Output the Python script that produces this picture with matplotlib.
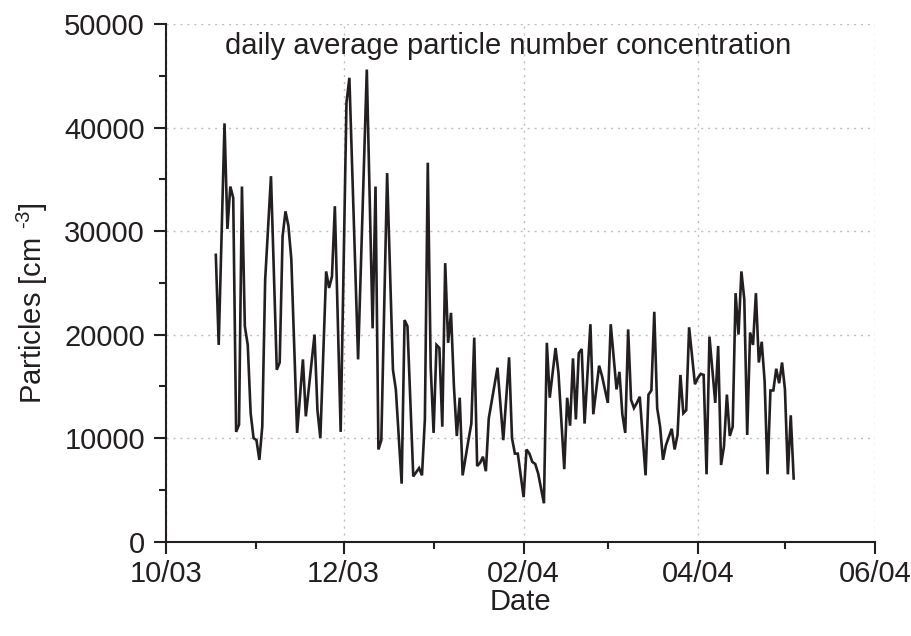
import numpy as np
import matplotlib
matplotlib.use("Agg")
import matplotlib.pyplot as plt
import matplotlib.dates as mdates
from matplotlib.ticker import MultipleLocator

plt.rcParams['font.family'] = ['Liberation Sans', 'DejaVu Sans']
plt.rcParams['mathtext.fontset'] = 'custom'
plt.rcParams['mathtext.rm'] = 'Liberation Sans'
plt.rcParams['mathtext.it'] = 'Liberation Sans:italic'
plt.rcParams['mathtext.bf'] = 'Liberation Sans:bold'

# day offsets from 2003-10-01 and daily average particle concentration (cm^-3)
start_date = "2003-10-01"
days = [17, 18, 20, 21, 22, 23, 24, 25, 26, 27, 28, 29, 30, 31, 32, 33, 34, 36, 38, 39,
        40, 41, 42, 43, 45, 47, 48, 51, 52, 53, 55, 56, 57, 58, 60, 62, 63, 66, 69, 71,
        72, 73, 74, 76, 78, 79, 81, 82, 83, 85, 87, 88, 89, 90, 91, 92, 93, 94, 95, 96,
        97, 98, 99, 100, 101, 102, 104, 105, 106, 107, 108, 109, 110, 111, 114, 116, 118, 119, 120, 121,
        123, 124, 125, 126, 127, 128, 130, 131, 132, 134, 135, 137, 138, 139, 140, 141, 142, 143, 144, 146,
        147, 149, 150, 152, 153, 155, 156, 157, 158, 159, 160, 161, 162, 163, 165, 166, 167, 168, 169, 170,
        171, 172, 174, 175, 176, 177, 178, 179, 180, 182, 183, 184, 185, 186, 187, 189, 190, 191, 192, 193,
        194, 195, 196, 197, 198, 199, 200, 201, 202, 203, 204, 205, 206, 207, 208, 209, 210, 211, 212, 213,
        214, 215, 216]
particles = [27700, 19000, 40400, 30200, 34300, 33200, 10600, 11300, 34300, 20800, 19000, 12400, 10000, 9800, 7900, 11100, 25300, 35300, 16600, 17300,
             29500, 31900, 30500, 27300, 10500, 17600, 12100, 20000, 12700, 10000, 26100, 24500, 25600, 32400, 10600, 42400, 44800, 17600, 45600, 20600,
             34300, 8900, 9800, 35600, 16600, 14700, 5600, 21400, 20800, 6300, 7100, 6400, 11800, 36600, 16900, 10500, 19000, 18700, 11100, 26900,
             19200, 22100, 15000, 10200, 13900, 6400, 9800, 11400, 19700, 7300, 7600, 8200, 6800, 11900, 16800, 9800, 17800, 10000, 8500, 8500,
             4300, 8900, 8500, 7700, 7500, 6600, 3700, 19200, 13900, 18700, 16300, 7000, 13900, 11200, 17700, 11800, 18200, 18600, 11400, 21000,
             12300, 17000, 16000, 13400, 21000, 14700, 16400, 12300, 10500, 20500, 13700, 12900, 13400, 14000, 6400, 14200, 14600, 22200, 12900, 11100,
             7900, 9300, 10900, 8900, 10300, 16100, 12400, 12700, 20700, 15200, 15800, 16200, 16100, 6500, 19800, 13400, 18900, 7400, 9200, 14200,
             10200, 11100, 24000, 20000, 26100, 23400, 10300, 20200, 19000, 24000, 17300, 19300, 15500, 6500, 14600, 14600, 16700, 15300, 17300, 14700,
             6500, 12200, 6100]

title_text = "daily average particle number concentration"
x_label = "Date"
y_label = "Particles [cm $^{\\text{-3}}$]"

dates = np.datetime64(start_date) + np.array(days, dtype='timedelta64[D]')

ink = '#231f20'
fs = 21
fig = plt.figure(figsize=(9.12, 6.36), dpi=100)
ax = fig.add_axes([0.1825, 0.1484, 0.9594 - 0.1825, 0.9623 - 0.1484])

ax.plot(dates, particles, color=ink, lw=1.9, solid_joinstyle='miter')

ax.set_xlim(np.datetime64('2003-10-01'), np.datetime64('2004-06-01'))
ax.set_ylim(0, 50000)
ax.xaxis.set_major_locator(mdates.MonthLocator(bymonth=[2, 4, 6, 10, 12]))
ax.xaxis.set_minor_locator(mdates.MonthLocator(bymonth=[1, 3, 5, 11]))
ax.xaxis.set_major_formatter(mdates.DateFormatter('%m/%y'))
ax.yaxis.set_major_locator(MultipleLocator(10000))
ax.yaxis.set_minor_locator(MultipleLocator(5000))

for s in ['top', 'right']:
    ax.spines[s].set_visible(False)
for s in ['left', 'bottom']:
    ax.spines[s].set_linewidth(1.5)
    ax.spines[s].set_color(ink)

ax.tick_params(which='major', length=8.5, width=1.5, color=ink, labelsize=fs,
               labelcolor=ink, direction='out')
ax.tick_params(which='minor', length=5, width=1.5, color=ink, direction='out')
ax.tick_params(axis='y', pad=7)
ax.tick_params(axis='x', pad=5)

ax.grid(which='major', color='#c0c0c0', linestyle=(0, (1.5, 3.5)), linewidth=1.0)
ax.set_axisbelow(True)

ax.text(0.482, 0.9575, title_text, transform=ax.transAxes, ha='center', va='center',
        fontsize=fs, color=ink)
ax.set_xlabel(x_label, fontsize=fs, color=ink, labelpad=0)
ax.set_ylabel(y_label, fontsize=fs, color=ink)
ax.yaxis.set_label_coords(-0.165, 0.46)

fig.savefig('out.png', dpi=100)
